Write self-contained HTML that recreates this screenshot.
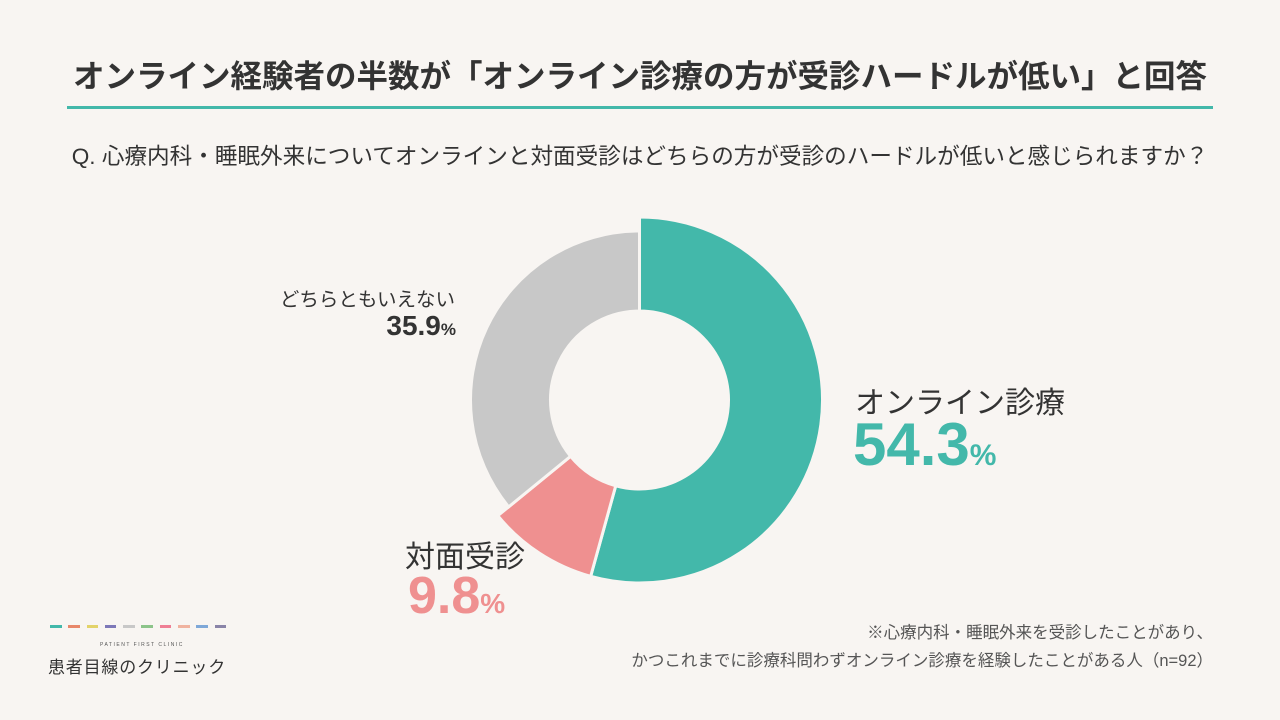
<!DOCTYPE html>
<html><head><meta charset="utf-8"><style>
body{margin:0;width:1280px;height:720px;background:#f8f5f2;font-family:"Liberation Sans","Noto Sans CJK JP",sans-serif;color:#333;position:relative;overflow:hidden}
.abs{position:absolute;white-space:nowrap}
</style></head><body>
<div class="abs" style="left:0;width:1280px;text-align:center;top:51px;font-size:31.5px;font-weight:bold;color:#333">オンライン経験者の半数が「オンライン診療の方が受診ハードルが低い」と回答</div>
<div class="abs" style="left:67px;top:106px;width:1146px;height:3px;background:#43b8aa"></div>
<div class="abs" style="left:0;width:1280px;text-align:center;top:138px;font-size:22.6px;color:#333">Q. 心療内科・睡眠外来についてオンラインと対面受診はどちらの方が受診のハードルが低いと感じられますか？</div>
<svg class="abs" style="left:0;top:0" width="1280" height="720"><g id="g"></g></svg>
<div class="abs" style="left:855px;top:378px;font-size:30px">オンライン診療</div>
<div class="abs" style="left:853px;top:410px;font-size:60px;font-weight:bold;color:#43b8aa">54.3<span style="font-size:30px">%</span></div>
<div class="abs" style="left:405px;top:532px;font-size:30px">対面受診</div>
<div class="abs" style="left:408px;top:566px;font-size:52px;font-weight:bold;color:#ef9090">9.8<span style="font-size:28px">%</span></div>
<div class="abs" style="right:825px;top:283px;font-size:19.5px">どちらともいえない</div>
<div class="abs" style="right:824px;top:310px;font-size:28px;font-weight:bold">35.9<span style="font-size:17px">%</span></div>
<div class="abs" style="right:67px;top:619px;font-size:16.5px;color:#555;text-align:right;line-height:28px">※心療内科・睡眠外来を受診したことがあり、<br>かつこれまでに診療科問わずオンライン診療を経験したことがある人（n=92）</div>
<div class="abs" style="left:50px;top:625px;display:flex;gap:6.8px" id="dash"></div>
<div class="abs" style="left:100px;top:642px;font-size:5px;letter-spacing:1.5px;color:#555">PATIENT FIRST CLINIC</div>
<div class="abs" style="left:48px;top:653px;font-size:17px;letter-spacing:0.8px;color:#333">患者目線のクリニック</div>
<script>
const categories=["オンライン診療","対面受診","どちらともいえない"];
const values=[54.3,9.8,35.9];
const colors=["#43b8aa","#ef9090","#c8c8c8"];
const outerR=[183,183,169];
const cx=639.5,cy=400,rIn=89;
const g=document.getElementById('g');
const total=values.reduce((a,b)=>a+b,0);
function pt(r,a){return [cx+r*Math.sin(a),cy-r*Math.cos(a)];}
let acc=0;
values.forEach((v,i)=>{
 const a0=acc/total*2*Math.PI; acc+=v; const a1=acc/total*2*Math.PI;
 const R=outerR[i], large=(a1-a0)>Math.PI?1:0;
 const p1=pt(R,a0),p2=pt(R,a1),p3=pt(rIn,a1),p4=pt(rIn,a0);
 const p=document.createElementNS('http://www.w3.org/2000/svg','path');
 p.setAttribute('d',`M${p1}A${R},${R} 0 ${large} 1 ${p2}L${p3}A${rIn},${rIn} 0 ${large} 0 ${p4}Z`);
 p.setAttribute('fill',colors[i]);p.setAttribute('stroke','#f8f5f2');p.setAttribute('stroke-width','3');
 
 
 g.appendChild(p);
});
const dc=["#43b8aa","#e8876a","#e3d36a","#7d78b8","#c8c8c8","#8cc48a","#ef7f95","#f0b3a0","#7fa8d8","#8a84a8"];
const d=document.getElementById('dash');
dc.forEach(c=>{const s=document.createElement('div');s.style.cssText=`width:11.5px;height:3px;background:${c}`;


d.appendChild(s);});
</script>
</body></html>
